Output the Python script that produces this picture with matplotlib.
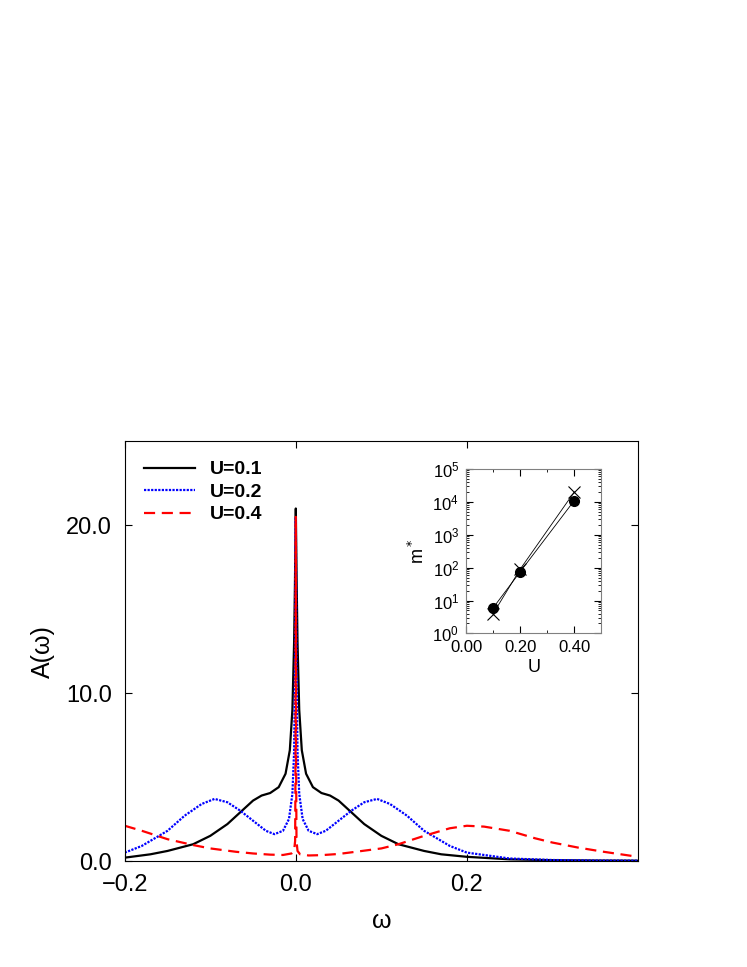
import matplotlib
matplotlib.use("Agg")
import matplotlib.pyplot as plt
from matplotlib.ticker import FixedLocator, FixedFormatter, LogLocator, NullFormatter

plt.rcParams["font.family"] = "Liberation Sans"

# ===== data =====
w1 = [-0.2, -0.17, -0.15, -0.12, -0.1, -0.08, -0.065, -0.05, -0.04, -0.03, -0.02, -0.012, -0.007, -0.004, -0.002, -0.001, 0.0,
      0.001, 0.002, 0.004, 0.007, 0.012, 0.02, 0.03, 0.04, 0.05, 0.065, 0.08, 0.1, 0.12, 0.15, 0.17, 0.2, 0.25, 0.3, 0.35, 0.4]
a1 = [0.2, 0.4, 0.6, 1.0, 1.5, 2.2, 2.9, 3.6, 3.9, 4.05, 4.4, 5.2, 6.6, 9.0, 13.0, 16.5, 21.0,
      16.5, 13.0, 9.0, 6.6, 5.2, 4.4, 4.05, 3.9, 3.6, 2.9, 2.2, 1.5, 1.0, 0.6, 0.4, 0.25, 0.1, 0.05, 0.03, 0.02]

w2 = [-0.2, -0.18, -0.15, -0.13, -0.11, -0.095, -0.08, -0.065, -0.05, -0.035, -0.025, -0.015, -0.008, -0.004, -0.002, -0.0008, 0.0,
      0.0008, 0.002, 0.004, 0.008, 0.015, 0.025, 0.035, 0.05, 0.065, 0.08, 0.095, 0.11, 0.13, 0.15, 0.18, 0.2, 0.25, 0.3, 0.35, 0.4]
a2 = [0.5, 0.9, 1.8, 2.7, 3.4, 3.7, 3.5, 3.0, 2.4, 1.8, 1.6, 1.8, 2.5, 4.0, 6.5, 12.0, 20.5,
      12.0, 6.5, 4.0, 2.5, 1.8, 1.6, 1.8, 2.4, 3.0, 3.5, 3.7, 3.4, 2.7, 1.8, 0.9, 0.5, 0.15, 0.06, 0.03, 0.02]

w3 = [-0.2, -0.18, -0.15, -0.12, -0.1, -0.07, -0.05, -0.03, -0.015, -0.005, -0.002, -0.0008, -0.0003, 0.0,
      0.0003, 0.0008, 0.002, 0.005, 0.015, 0.03, 0.05, 0.07, 0.1, 0.12, 0.15, 0.18, 0.2, 0.22, 0.25, 0.28, 0.3, 0.33, 0.36, 0.4]
a3 = [2.1, 1.8, 1.3, 0.95, 0.75, 0.55, 0.45, 0.38, 0.36, 0.45, 0.6, 1.2, 6.0, 20.5,
      6.0, 1.2, 0.6, 0.4, 0.33, 0.35, 0.42, 0.55, 0.75, 1.0, 1.5, 1.95, 2.1, 2.05, 1.8, 1.35, 1.1, 0.8, 0.55, 0.25]

x_ticks = [-0.2, 0.0, 0.2]
x_labels = ["\u22120.2", "0.0", "0.2"]
y_ticks = [0, 10, 20]
y_labels = ["0.0", "10.0", "20.0"]

u_in = [0.1, 0.2, 0.4]
m_dot = [6, 75, 11000]
m_cross = [4, 90, 20000]

# ===== figure =====
fig = plt.figure(figsize=(7.47, 9.67), dpi=100)
ax = fig.add_axes([0.167, 0.1096, 0.687, 0.434])
ax.plot(w1, a1, color="black", lw=1.6, label="U=0.1")
ax.plot(w2, a2, color="blue", lw=1.6, ls=(0, (1, 0.6)), label="U=0.2")
ax.plot(w3, a3, color="red", lw=1.6, ls=(0, (5, 3)), label="U=0.4")
ax.set_xlim(-0.2, 0.4)
ax.set_ylim(0, 25)
ax.xaxis.set_major_locator(FixedLocator(x_ticks))
ax.xaxis.set_major_formatter(FixedFormatter(x_labels))
ax.yaxis.set_major_locator(FixedLocator(y_ticks))
ax.yaxis.set_major_formatter(FixedFormatter(y_labels))
ax.tick_params(direction="in", labelsize=17, top=True, right=True, length=5, pad=9)
ax.set_xlabel("ω", fontsize=18, labelpad=10)
ax.set_ylabel("A(ω)", fontsize=18, labelpad=8)
ax.legend(loc="upper left", frameon=False, prop={"weight": "bold", "size": 14},
          handlelength=2.6, borderaxespad=0.6, labelspacing=0.25)

ins = fig.add_axes([0.624, 0.345, 0.181, 0.170])
ins.plot(u_in, m_dot, color="black", lw=0.6, marker="o", ms=7)
ins.plot(u_in, m_cross, color="black", lw=0.6, marker="x", ms=8, mew=0.8)
ins.set_yscale("log")
ins.set_xlim(0, 0.5)
ins.set_ylim(1, 1e5)
ins.xaxis.set_major_locator(FixedLocator([0.0, 0.2, 0.4]))
ins.xaxis.set_minor_locator(FixedLocator([0.1, 0.3, 0.5]))
ins.xaxis.set_major_formatter(FixedFormatter(["0.00", "0.20", "0.40"]))
ins.yaxis.set_major_locator(LogLocator(base=10, numticks=10))
ins.yaxis.set_minor_locator(LogLocator(base=10, subs=range(2, 10), numticks=10))
ins.yaxis.set_minor_formatter(NullFormatter())
ins.tick_params(which="both", direction="in", top=True, right=True, labelsize=12, pad=5)
ins.tick_params(which="major", length=5)
ins.tick_params(which="minor", length=2.5)
for s in ins.spines.values():
    s.set_color("gray")
ins.set_xlabel("U", fontsize=13, labelpad=3)
ins.set_ylabel("m$^*$", fontsize=13, labelpad=3)

fig.savefig("out.png", dpi=100)
